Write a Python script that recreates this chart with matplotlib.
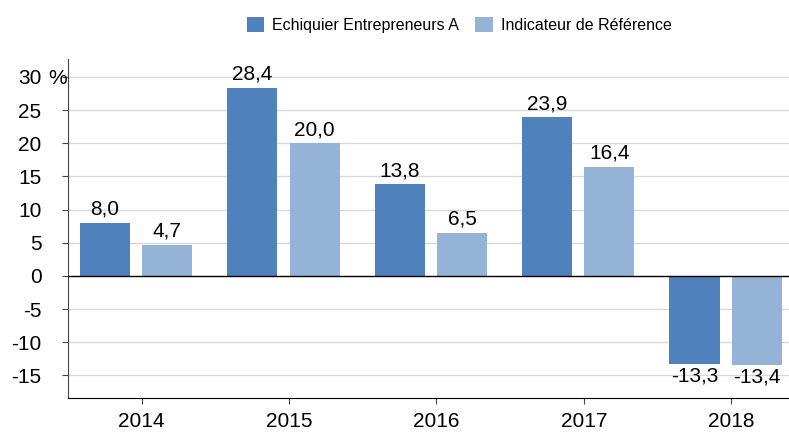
import matplotlib.pyplot as plt
import numpy as np

plt.rcParams['font.family'] = ['Liberation Sans', 'DejaVu Sans']

# Données
annees = ['2014', '2015', '2016', '2017', '2018']
fonds = [8.0, 28.4, 13.8, 23.9, -13.3]
indice = [4.7, 20.0, 6.5, 16.4, -13.4]
noms = ['Echiquier Entrepreneurs A', 'Indicateur de Référence']
yticks = [-15, -10, -5, 0, 5, 10, 15, 20, 25, 30]

col_fonds = '#4f81bd'
col_indice = '#95b3d7'

fig = plt.figure(figsize=(7.89, 4.32), dpi=100)
ax = fig.add_axes([68/789, 34/432, 737/789, 339/432])

x = np.arange(len(annees))
w = 0.34
b1 = ax.bar(x - 0.25, fonds, w, color=col_fonds, label=noms[0], zorder=3)
b2 = ax.bar(x + 0.173, indice, w, color=col_indice, label=noms[1], zorder=3)

def fmt(v):
    return f"{v:.1f}".replace('.', ',')

fs = 15
for bars, vals in [(b1, fonds), (b2, indice)]:
    for r, v in zip(bars, vals):
        cx = r.get_x() + r.get_width() / 2
        if v >= 0:
            ax.annotate(fmt(v), (cx, v), xytext=(0, 3), textcoords='offset points',
                        ha='center', va='bottom', fontsize=fs)
        else:
            ax.annotate(fmt(v), (cx, v), xytext=(0, -2), textcoords='offset points',
                        ha='center', va='top', fontsize=fs)

ax.set_xlim(-0.5, 4.5)
ax.set_ylim(-18.4, 32.7)
ax.set_yticks(yticks)
ax.set_yticklabels([str(t) for t in yticks])
ax.set_xticks(x)
ax.set_xticklabels(annees)

for t in yticks:
    if t != 0:
        ax.axhline(t, color='#d9d9d9', lw=1, zorder=1)
ax.axhline(0, color='black', lw=1, zorder=4)

ax.tick_params(axis='y', length=4, pad=15, labelsize=fs, color='#444444')
ax.tick_params(axis='x', length=4, pad=6, labelsize=fs, color='#444444')
ax.spines['top'].set_visible(False)
ax.spines['right'].set_visible(False)
ax.spines['left'].set_color('#444444')
ax.spines['bottom'].set_color('black')

ax.annotate('%', xy=(0, 30), xycoords=('axes fraction', 'data'), xytext=(-14.4, -1),
            textcoords='offset points', ha='left', va='center', fontsize=fs)

fig.legend(loc='center', bbox_to_anchor=(0.582, 0.942), ncol=2, frameon=False,
           fontsize=11.5, handlelength=1.1, handleheight=1.1, columnspacing=1.0,
           handletextpad=0.5)

fig.savefig('out.png', dpi=100)
